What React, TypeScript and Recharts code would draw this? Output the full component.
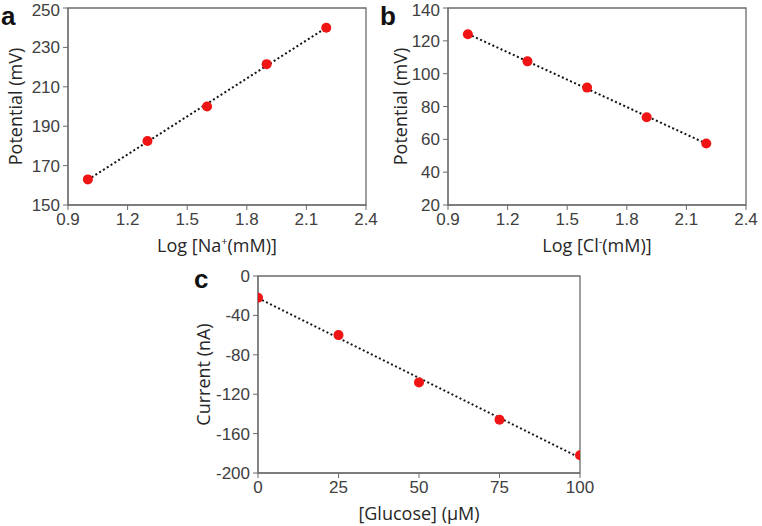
import React from "react";
import {
  ScatterChart,
  Scatter,
  XAxis,
  YAxis,
  ReferenceLine,
  ReferenceArea,
  Label,
} from "recharts";

// panel a: sodium
const naLog = [1.0, 1.3, 1.6, 1.9, 2.2];
const naPotential = [163, 182.5, 200, 221.5, 240];
const naFit = [162.8, 240.0];
const naXTicks = [0.9, 1.2, 1.5, 1.8, 2.1, 2.4];
const naYTicks = [150, 170, 190, 210, 230, 250];

// panel b: chloride
const clLog = [1.0, 1.3, 1.6, 1.9, 2.2];
const clPotential = [124, 107.5, 91.5, 73.5, 57.5];
const clFit = [124.2, 57.4];
const clXTicks = [0.9, 1.2, 1.5, 1.8, 2.1, 2.4];
const clYTicks = [20, 40, 60, 80, 100, 120, 140];

// panel c: glucose
const glucose = [0, 25, 50, 75, 100];
const current = [-22, -60, -108, -146, -182];
const glucoseFit = [-22.4, -184.6];
const gXTicks = [0, 25, 50, 75, 100];
const gYTicks = [-200, -160, -120, -80, -40, 0];

const RED = "#f01414";
const AXIS = "#6b6b6b";
const TICK_TEXT = "#404040";
const TITLE_FONT = "'Open Sans', sans-serif";

const dot = (p: any) => <circle cx={p.cx} cy={p.cy} r={5} fill={RED} />;

interface PanelProps {
  xs: number[];
  ys: number[];
  fit: number[];
  xTicks: number[];
  yTicks: number[];
  xFmt: (v: number) => string;
  xTitle: React.ReactNode;
  yTitle: string;
  width: number;
  height: number;
  yAxisWidth: number;
  margin: { top: number; right: number; bottom: number; left: number };
  xAxisHeight: number;
  yTitleX: number;
  xTitleOffset: number;
}

function Panel(props: PanelProps) {
  const { xs, ys, fit, xTicks, yTicks } = props;
  const data = xs.map((x, i) => ({ x, y: ys[i] }));
  const x0 = xTicks[0];
  const x1 = xTicks[xTicks.length - 1];
  const y0 = yTicks[0];
  const y1 = yTicks[yTicks.length - 1];
  const tickStyle = { fontFamily: "'Liberation Sans', Arial, sans-serif", fontSize: 17, fill: TICK_TEXT };

  return (
    <ScatterChart width={props.width} height={props.height} margin={props.margin}>
      <XAxis
        type="number"
        dataKey="x"
        domain={[x0, x1]}
        ticks={xTicks}
        tickFormatter={props.xFmt}
        allowDataOverflow
        height={props.xAxisHeight}
        stroke={AXIS}
        tick={tickStyle}
        tickSize={5}
        tickMargin={3}
      >
        <Label
          content={(lp: any) => {
            const vb = lp.viewBox;
            return (
              <text
                x={vb.x + vb.width / 2}
                y={vb.y + vb.height - props.xTitleOffset}
                textAnchor="middle"
                fontFamily={TITLE_FONT}
                fontSize={18}
                fill="#262626"
              >
                {props.xTitle}
              </text>
            );
          }}
        />
      </XAxis>
      <YAxis
        type="number"
        dataKey="y"
        domain={[y0, y1]}
        ticks={yTicks}
        allowDataOverflow
        width={props.yAxisWidth}
        stroke={AXIS}
        tick={tickStyle}
        tickSize={5}
        tickMargin={3}
      >
        <Label
          content={(lp: any) => {
            const vb = lp.viewBox;
            const cy = vb.y + vb.height / 2;
            return (
              <text
                x={props.yTitleX}
                y={cy}
                transform={`rotate(-90 ${props.yTitleX} ${cy})`}
                textAnchor="middle"
                dominantBaseline="central"
                fontFamily={TITLE_FONT}
                fontSize={18}
                fill="#262626"
              >
                {props.yTitle}
              </text>
            );
          }}
        />
      </YAxis>
      <ReferenceArea
        x1={x0}
        x2={x1}
        y1={y0}
        y2={y1}
        fill="none"
        stroke={AXIS}
        strokeWidth={1.3}
      />
      <ReferenceLine
        segment={[
          { x: xs[0], y: fit[0] },
          { x: xs[xs.length - 1], y: fit[1] },
        ]}
        stroke="#111"
        strokeWidth={2}
        strokeDasharray="2 2.5"
      />
      <Scatter data={data} shape={dot} isAnimationActive={false} />
    </ScatterChart>
  );
}

const letterStyle: React.CSSProperties = {
  position: "absolute",
  fontFamily: "'Liberation Sans', Arial, sans-serif",
  fontWeight: 700,
  fontSize: 26,
  lineHeight: "normal",
  color: "#111",
};

export default function App() {
  const fmt1 = (v: number) => v.toFixed(1);
  return (
    <div style={{ position: "absolute", left: 0, top: 0, width: 762, height: 526, background: "#fff" }}>
      <div style={{ position: "absolute", left: 0, top: 0 }}>
        <Panel
          xs={naLog}
          ys={naPotential}
          fit={naFit}
          xTicks={naXTicks}
          yTicks={naYTicks}
          xFmt={fmt1}
          xTitle={
            <>
              Log [Na<tspan baselineShift="super" fontSize={11}>+</tspan>(mM)]
            </>
          }
          yTitle="Potential (mV)"
          width={380}
          height={260}
          yAxisWidth={68}
          margin={{ top: 8, right: 14, bottom: 0, left: 0 }}
          xAxisHeight={55}
          yTitleX={15}
          xTitleOffset={8}
        />
      </div>
      <div style={{ position: "absolute", left: 380, top: 0 }}>
        <Panel
          xs={clLog}
          ys={clPotential}
          fit={clFit}
          xTicks={clXTicks}
          yTicks={clYTicks}
          xFmt={fmt1}
          xTitle={
            <>
              Log [Cl<tspan baselineShift="super" fontSize={11}>-</tspan>(mM)]
            </>
          }
          yTitle="Potential (mV)"
          width={382}
          height={260}
          yAxisWidth={68}
          margin={{ top: 8, right: 16, bottom: 0, left: 0 }}
          xAxisHeight={55}
          yTitleX={20}
          xTitleOffset={8}
        />
      </div>
      <div style={{ position: "absolute", left: 180, top: 260 }}>
        <Panel
          xs={glucose}
          ys={current}
          fit={glucoseFit}
          xTicks={gXTicks}
          yTicks={gYTicks}
          xFmt={(v) => String(v)}
          xTitle="[Glucose] (μM)"
          yTitle="Current (nA)"
          width={420}
          height={266}
          yAxisWidth={78}
          margin={{ top: 16, right: 20, bottom: 0, left: 0 }}
          xAxisHeight={53}
          yTitleX={23}
          xTitleOffset={6}
        />
      </div>
      <div style={{ ...letterStyle, left: 1, top: 1 }}>a</div>
      <div style={{ ...letterStyle, left: 380, top: 1 }}>b</div>
      <div style={{ ...letterStyle, left: 194, top: 264 }}>c</div>
    </div>
  );
}
